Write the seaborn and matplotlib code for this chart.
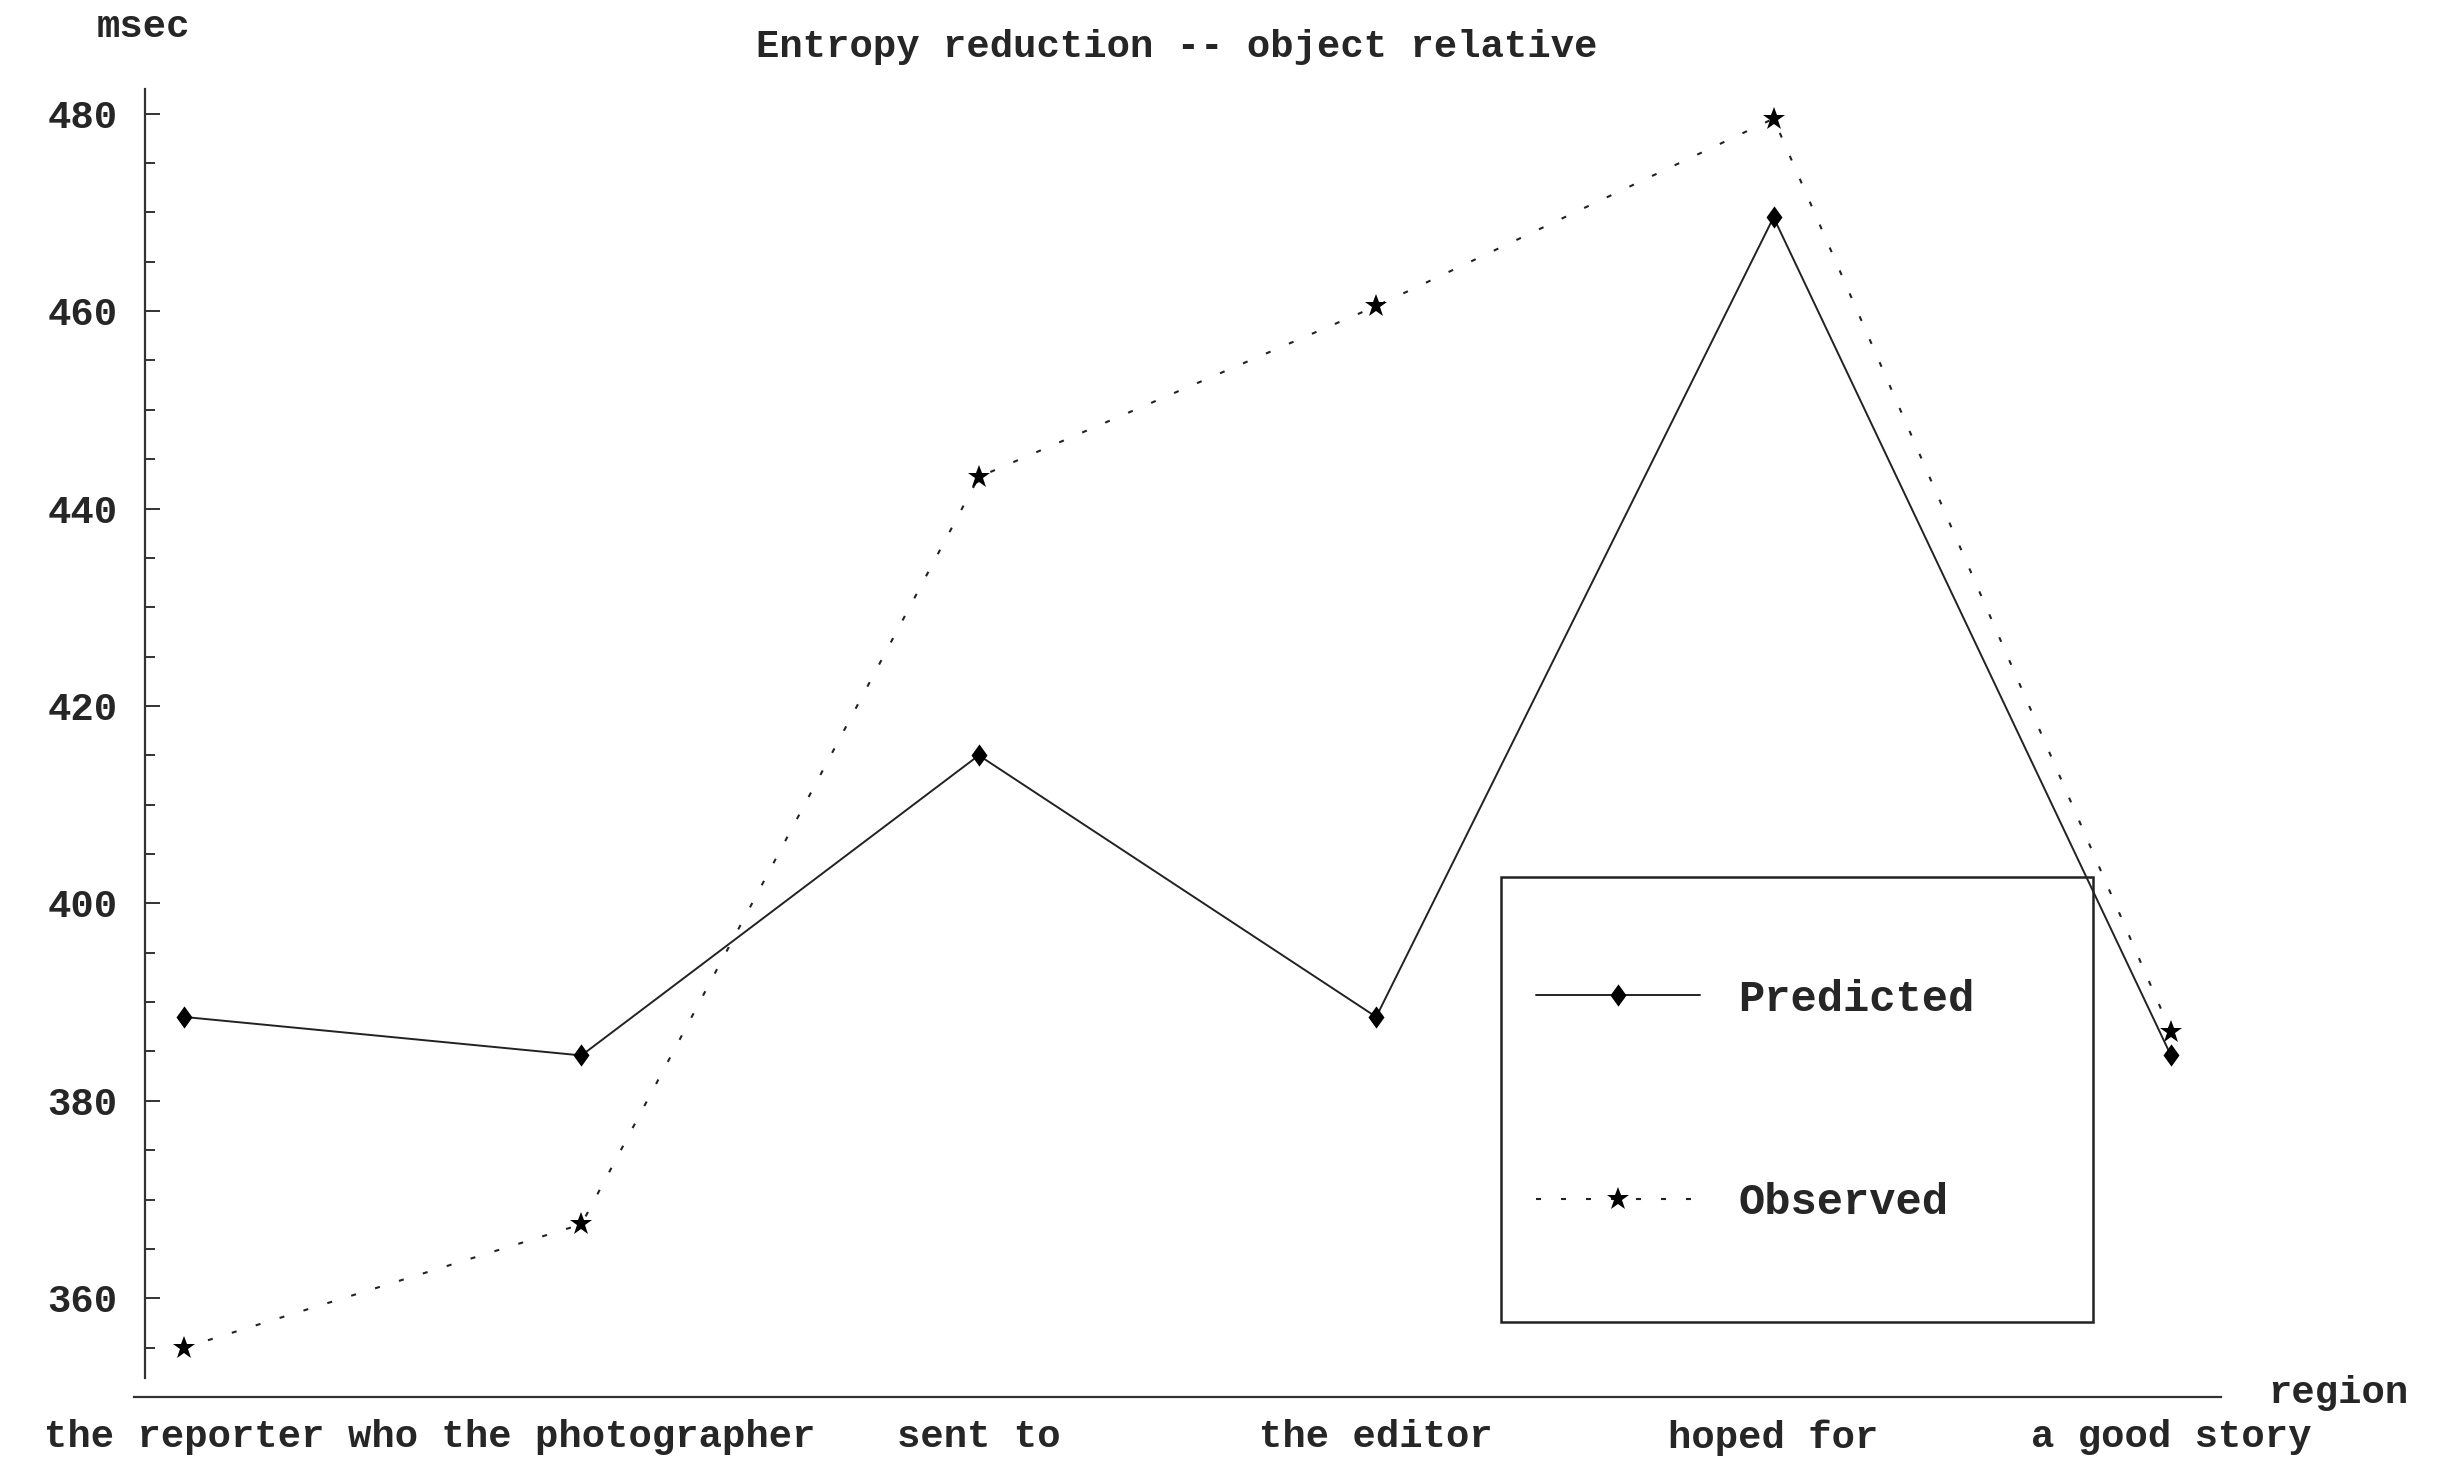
import matplotlib
matplotlib.use("Agg")
import matplotlib.pyplot as plt
import seaborn as sns
import pandas as pd
from matplotlib.lines import Line2D
from matplotlib.patches import Rectangle
from matplotlib.path import Path
from matplotlib.ticker import FixedLocator

region_labels = ["the reporter", "who the photographer", "sent to",
                 "the editor", "hoped for", "a good story"]
positions = [0, 1, 2, 3, 4, 5]
predicted = [388.5, 384.6, 415.0, 388.5, 469.5, 384.6]
observed = [355.0, 367.5, 443.2, 460.5, 479.5, 387.0]
y_major = [360, 380, 400, 420, 440, 460, 480]

sns.set_theme(style="white")
plt.rcParams["font.family"] = ["Liberation Mono", "DejaVu Sans Mono"]
plt.rcParams["font.weight"] = "bold"

W, H = 2444, 1465
fig = plt.figure(figsize=(W / 100, H / 100), dpi=100)
ax = fig.add_axes([134 / W, 1 - 1397 / H, (2221 - 134) / W, (1397 - 89) / H])

# a diamond a little wider than matplotlib's thin diamond
diamond = Path([(0, 1), (0.72, 0), (0, -1), (-0.72, 0), (0, 1)],
               [Path.MOVETO, Path.LINETO, Path.LINETO, Path.LINETO, Path.CLOSEPOLY])
dotted = (0, (2.4, 9.6))
line_col = "#222222"

df = pd.DataFrame({"pos": positions, "Predicted": predicted, "Observed": observed})

sns.lineplot(data=df, x="pos", y="Predicted", ax=ax, color=line_col, lw=1.4,
             marker=diamond, markersize=16, markeredgewidth=0,
             markerfacecolor="black")
sns.lineplot(data=df, x="pos", y="Observed", ax=ax, color=line_col, lw=1.5,
             linestyle=dotted, marker="*", markersize=17,
             markeredgewidth=0, markerfacecolor="black")

ax.set_xlim(-0.126, 5.126)
ax.set_ylim(350, 482.5)

for s in ["top", "right"]:
    ax.spines[s].set_visible(False)
for s in ["left", "bottom"]:
    ax.spines[s].set_color("#333333")
    ax.spines[s].set_linewidth(1.6)
ax.spines["left"].set_position(("data", -0.098))
ax.spines["left"].set_bounds(351.9, 482.5)

ax.set_xticks(positions)
ax.set_xticklabels(region_labels)
ax.set_yticks(y_major)
ax.yaxis.set_minor_locator(FixedLocator([v for v in range(355, 481, 5) if v % 20]))

ax.tick_params(axis="x", direction="in", length=9, width=1.2, color="#333333",
               pad=16, labelsize=28)
ax.tick_params(axis="y", which="major", direction="in", length=11, width=1.4,
               color="#333333", pad=20, labelsize=28, left=True)
ax.tick_params(axis="y", which="minor", direction="in", length=7, width=1.4,
               color="#333333", left=True)
for lbl in ax.get_yticklabels() + ax.get_xticklabels():
    lbl.set_fontweight("bold")

ax.set_xlabel("")
ax.set_ylabel("")

fig.text(1177 / W, 1 - 47 / H, "Entropy reduction -- object relative",
         ha="center", va="center", fontsize=28, fontweight="bold")
fig.text(143 / W, 1 - 27 / H, "msec", ha="center", va="center",
         fontsize=28, fontweight="bold")
fig.text(2268 / W, 1 - 1393 / H, "region", ha="left", va="center",
         fontsize=28, fontweight="bold")

# legend box
fig.patches.append(Rectangle((1501 / W, 1 - 1322 / H), (2093 - 1501) / W,
                             (1322 - 877) / H, transform=fig.transFigure,
                             fill=False, edgecolor="#222222", lw=1.8))
handles = [
    Line2D([], [], color=line_col, lw=1.4, marker=diamond, markersize=16,
           markeredgewidth=0, markerfacecolor="black"),
    Line2D([], [], color=line_col, lw=1.5, linestyle=dotted,
           marker="*", markersize=17, markeredgewidth=0, markerfacecolor="black"),
]
leg = fig.legend(handles, ["Predicted", "Observed"], loc="center left",
                 bbox_to_anchor=(1514 / W, 1 - 1101 / H), frameon=False,
                 borderpad=0, handlelength=3.75, handletextpad=0.87,
                 labelspacing=3.72, prop={"size": 31.5, "weight": "bold"})

fig.savefig("out.png", dpi=100, facecolor="white")
